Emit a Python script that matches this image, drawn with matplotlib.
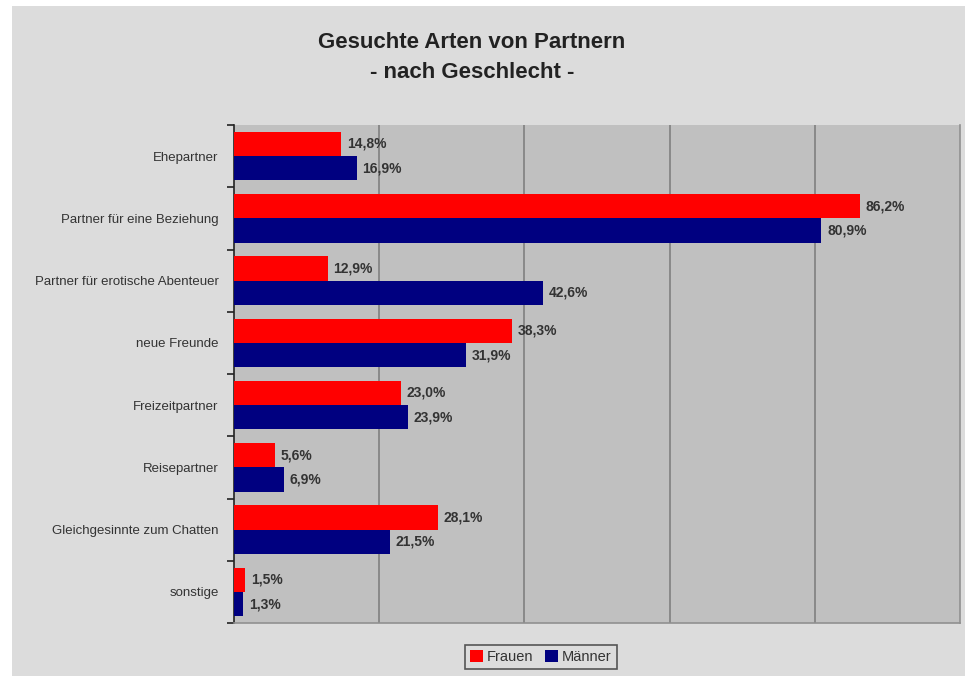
import matplotlib.pyplot as plt
from matplotlib.patches import Rectangle
from matplotlib.ticker import FixedLocator

kategorien = ["Ehepartner", "Partner für eine Beziehung", "Partner für erotische Abenteuer",
              "neue Freunde", "Freizeitpartner", "Reisepartner",
              "Gleichgesinnte zum Chatten", "sonstige"]
frauen = [14.8, 86.2, 12.9, 38.3, 23.0, 5.6, 28.1, 1.5]
maenner = [16.9, 80.9, 42.6, 31.9, 23.9, 6.9, 21.5, 1.3]
serien = ["Frauen", "Männer"]

plt.rcParams['font.family'] = ['Liberation Sans', 'DejaVu Sans']

fig = plt.figure(figsize=(9.65, 6.76), dpi=100)
fig.patch.set_facecolor("white")
# grauer Hintergrund des Diagramms
fig.patches.append(Rectangle((12 / 965, 0), 1, 1 - 6 / 676, transform=fig.transFigure,
                             facecolor="#dcdcdc", edgecolor="none", zorder=-10))

ax = fig.add_axes([234 / 965, 53 / 676, 726 / 965, 498 / 676])
ax.set_facecolor("#c0c0c0")

pos = list(range(len(kategorien)))
h = 0.39
b1 = ax.barh([p - h / 2 for p in pos], frauen, height=h, color="#ff0000", label=serien[0], zorder=3)
b2 = ax.barh([p + h / 2 for p in pos], maenner, height=h, color="#000080", label=serien[1], zorder=3)

for bars, werte in ((b1, frauen), (b2, maenner)):
    for bar, v in zip(bars, werte):
        ax.text(v + 0.8, bar.get_y() + bar.get_height() / 2,
                f"{v:.1f}%".replace(".", ","), va="center", ha="left",
                fontsize=10, fontweight="bold", color="#333333", zorder=4)

ax.set_xlim(0, 100)
ax.set_ylim(len(kategorien) - 0.5, -0.5)
ax.set_xticks([20, 40, 60, 80])
ax.set_xticklabels([])
ax.tick_params(axis="x", length=0)
ax.grid(axis="x", color="#858585", linewidth=1.3, zorder=1)

ax.set_yticks(pos)
ax.set_yticklabels(kategorien, fontsize=9.5, color="#333333")
ax.tick_params(axis="y", which="major", length=0, pad=11)
ax.yaxis.set_minor_locator(FixedLocator([p - 0.5 for p in range(len(kategorien) + 1)]))
ax.tick_params(axis="y", which="minor", length=5, width=1.2, color="#222222")

ax.spines["left"].set_color("#222222")
ax.spines["left"].set_linewidth(1.2)
for s in ("top", "right", "bottom"):
    ax.spines[s].set_color("#909090")
    ax.spines[s].set_linewidth(1.2)
ax.spines["top"].set_visible(False)

fig.text(472 / 965, 1 - 42 / 676, "Gesuchte Arten von Partnern", ha="center", va="center",
         fontsize=16, fontweight="bold", color="#222222")
fig.text(472 / 965, 1 - 72 / 676, "- nach Geschlecht -", ha="center", va="center",
         fontsize=16, fontweight="bold", color="#222222")

leg = fig.legend(loc="center", bbox_to_anchor=(541 / 965, 1 - 657 / 676), ncol=2,
                 fontsize=10.5, frameon=True, fancybox=False, handlelength=0.9, handleheight=0.9,
                 handletextpad=0.25, columnspacing=0.8, borderpad=0.35, edgecolor="#333333")
leg.get_frame().set_facecolor("#dcdcdc")
leg.get_frame().set_linewidth(1.2)
for t in leg.get_texts():
    t.set_color("#333333")

fig.savefig("out.png", dpi=100)
